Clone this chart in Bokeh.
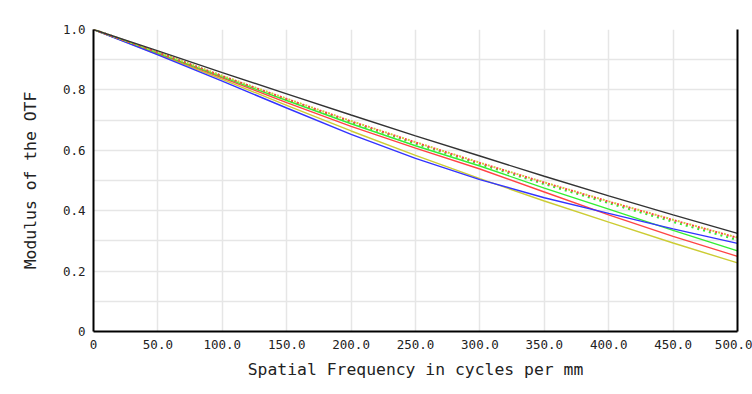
from bokeh.plotting import figure
from bokeh.models import Range1d, FixedTicker, LinearAxis
from bokeh.embed import file_html
from bokeh.resources import INLINE

# ---- data ----
freq = [0, 50, 100, 150, 200, 250, 300, 350, 400, 450, 500]
diffraction = [1.0, 0.929, 0.857, 0.787, 0.717, 0.648, 0.581, 0.514, 0.449, 0.386, 0.325]
red_dotted = [1.0, 0.924, 0.846, 0.770, 0.696, 0.626, 0.558, 0.493, 0.430, 0.369, 0.310]
yellow_dotted = [1.0, 0.925, 0.847, 0.771, 0.697, 0.627, 0.559, 0.494, 0.431, 0.370, 0.311]
green_dotted = [1.0, 0.924, 0.845, 0.768, 0.693, 0.622, 0.554, 0.488, 0.425, 0.363, 0.303]
green_solid = [1.0, 0.922, 0.843, 0.765, 0.688, 0.615, 0.548, 0.475, 0.405, 0.335, 0.267]
red_solid = [1.0, 0.921, 0.840, 0.758, 0.679, 0.607, 0.538, 0.462, 0.386, 0.315, 0.249]
yellow_solid = [1.0, 0.918, 0.835, 0.749, 0.664, 0.583, 0.506, 0.432, 0.362, 0.293, 0.227]
blue_solid = [1.0, 0.916, 0.829, 0.740, 0.653, 0.573, 0.503, 0.443, 0.391, 0.340, 0.292]

x_ticks = [0, 50, 100, 150, 200, 250, 300, 350, 400, 450, 500]
x_labels = ["0", "50.0", "100.0", "150.0", "200.0", "250.0", "300.0", "350.0", "400.0", "450.0", "500.0"]
y_ticks = [0, 0.2, 0.4, 0.6, 0.8, 1.0]
y_labels = ["0", "0.2", "0.4", "0.6", "0.8", "1.0"]
y_minor = [0.1, 0.3, 0.5, 0.7, 0.9]

FONT = "DejaVu Sans Mono"
TXT = "#222222"

p = figure(width=752, height=388, output_backend="svg", toolbar_location=None,
           x_range=Range1d(0, 500), y_range=Range1d(0, 1),
           min_border_left=93, min_border_right=15, min_border_top=29, min_border_bottom=57)
p.outline_line_color = None
p.background_fill_color = "white"
p.border_fill_color = "white"

# grids
for g in (p.xgrid, p.ygrid):
    g.grid_line_color = "#e6e6e6"
    g.grid_line_width = 1.5
p.ygrid.minor_grid_line_color = "#e6e6e6"
p.ygrid.minor_grid_line_width = 1.5

# axes
xa = p.xaxis[0]
ya = p.yaxis[0]
xa.ticker = FixedTicker(ticks=x_ticks)
ya.ticker = FixedTicker(ticks=y_ticks, minor_ticks=y_minor)
p.ygrid.ticker = FixedTicker(ticks=y_ticks, minor_ticks=y_minor)
p.xgrid.ticker = FixedTicker(ticks=x_ticks)
xa.major_label_overrides = {t: l for t, l in zip(x_ticks, x_labels)}
ya.major_label_overrides = {t: l for t, l in zip(y_ticks, y_labels)}
for ax in (xa, ya):
    ax.axis_line_color = "black"
    ax.axis_line_width = 2
    ax.major_tick_out = 0
    ax.major_tick_in = 0
    ax.minor_tick_out = 0
    ax.minor_tick_in = 0
    ax.major_label_standoff = 8
    ax.major_label_text_font = FONT
    ax.major_label_text_font_size = "12.5px"
    ax.major_label_text_color = TXT
    ax.axis_label_text_font = FONT
    ax.axis_label_text_font_size = "16.4px"
    ax.axis_label_text_font_style = "normal"
    ax.axis_label_text_color = TXT
xa.axis_label = "Spatial Frequency in cycles per mm"
ya.axis_label = "Modulus of the OTF"
xa.axis_label_standoff = 8
ya.axis_label_standoff = 20

right = LinearAxis(axis_line_color="black", axis_line_width=2,
                   major_tick_out=0, major_tick_in=0, minor_tick_out=0, minor_tick_in=0,
                   major_label_text_font_size="0px", major_label_standoff=0,
                   ticker=FixedTicker(ticks=[]))
p.add_layout(right, "right")

# curves
p.line(freq, yellow_solid, line_color="#cccc33", line_width=1.4)
p.line(freq, red_solid, line_color="#ff4444", line_width=1.4)
p.line(freq, green_solid, line_color="#33ee33", line_width=1.4)
p.line(freq, blue_solid, line_color="#3333ff", line_width=1.4)
p.line(freq, green_dotted, line_color="#33ee33", line_width=2, line_dash="2 4")
p.line(freq, yellow_dotted, line_color="#cccc33", line_width=2, line_dash="2 4", line_dash_offset=3)
p.line(freq, red_dotted, line_color="#ff4444", line_width=2, line_dash="2 4")
p.line(freq, diffraction, line_color="#333333", line_width=1.4)

open("out.html", "w").write(file_html(p, INLINE))
